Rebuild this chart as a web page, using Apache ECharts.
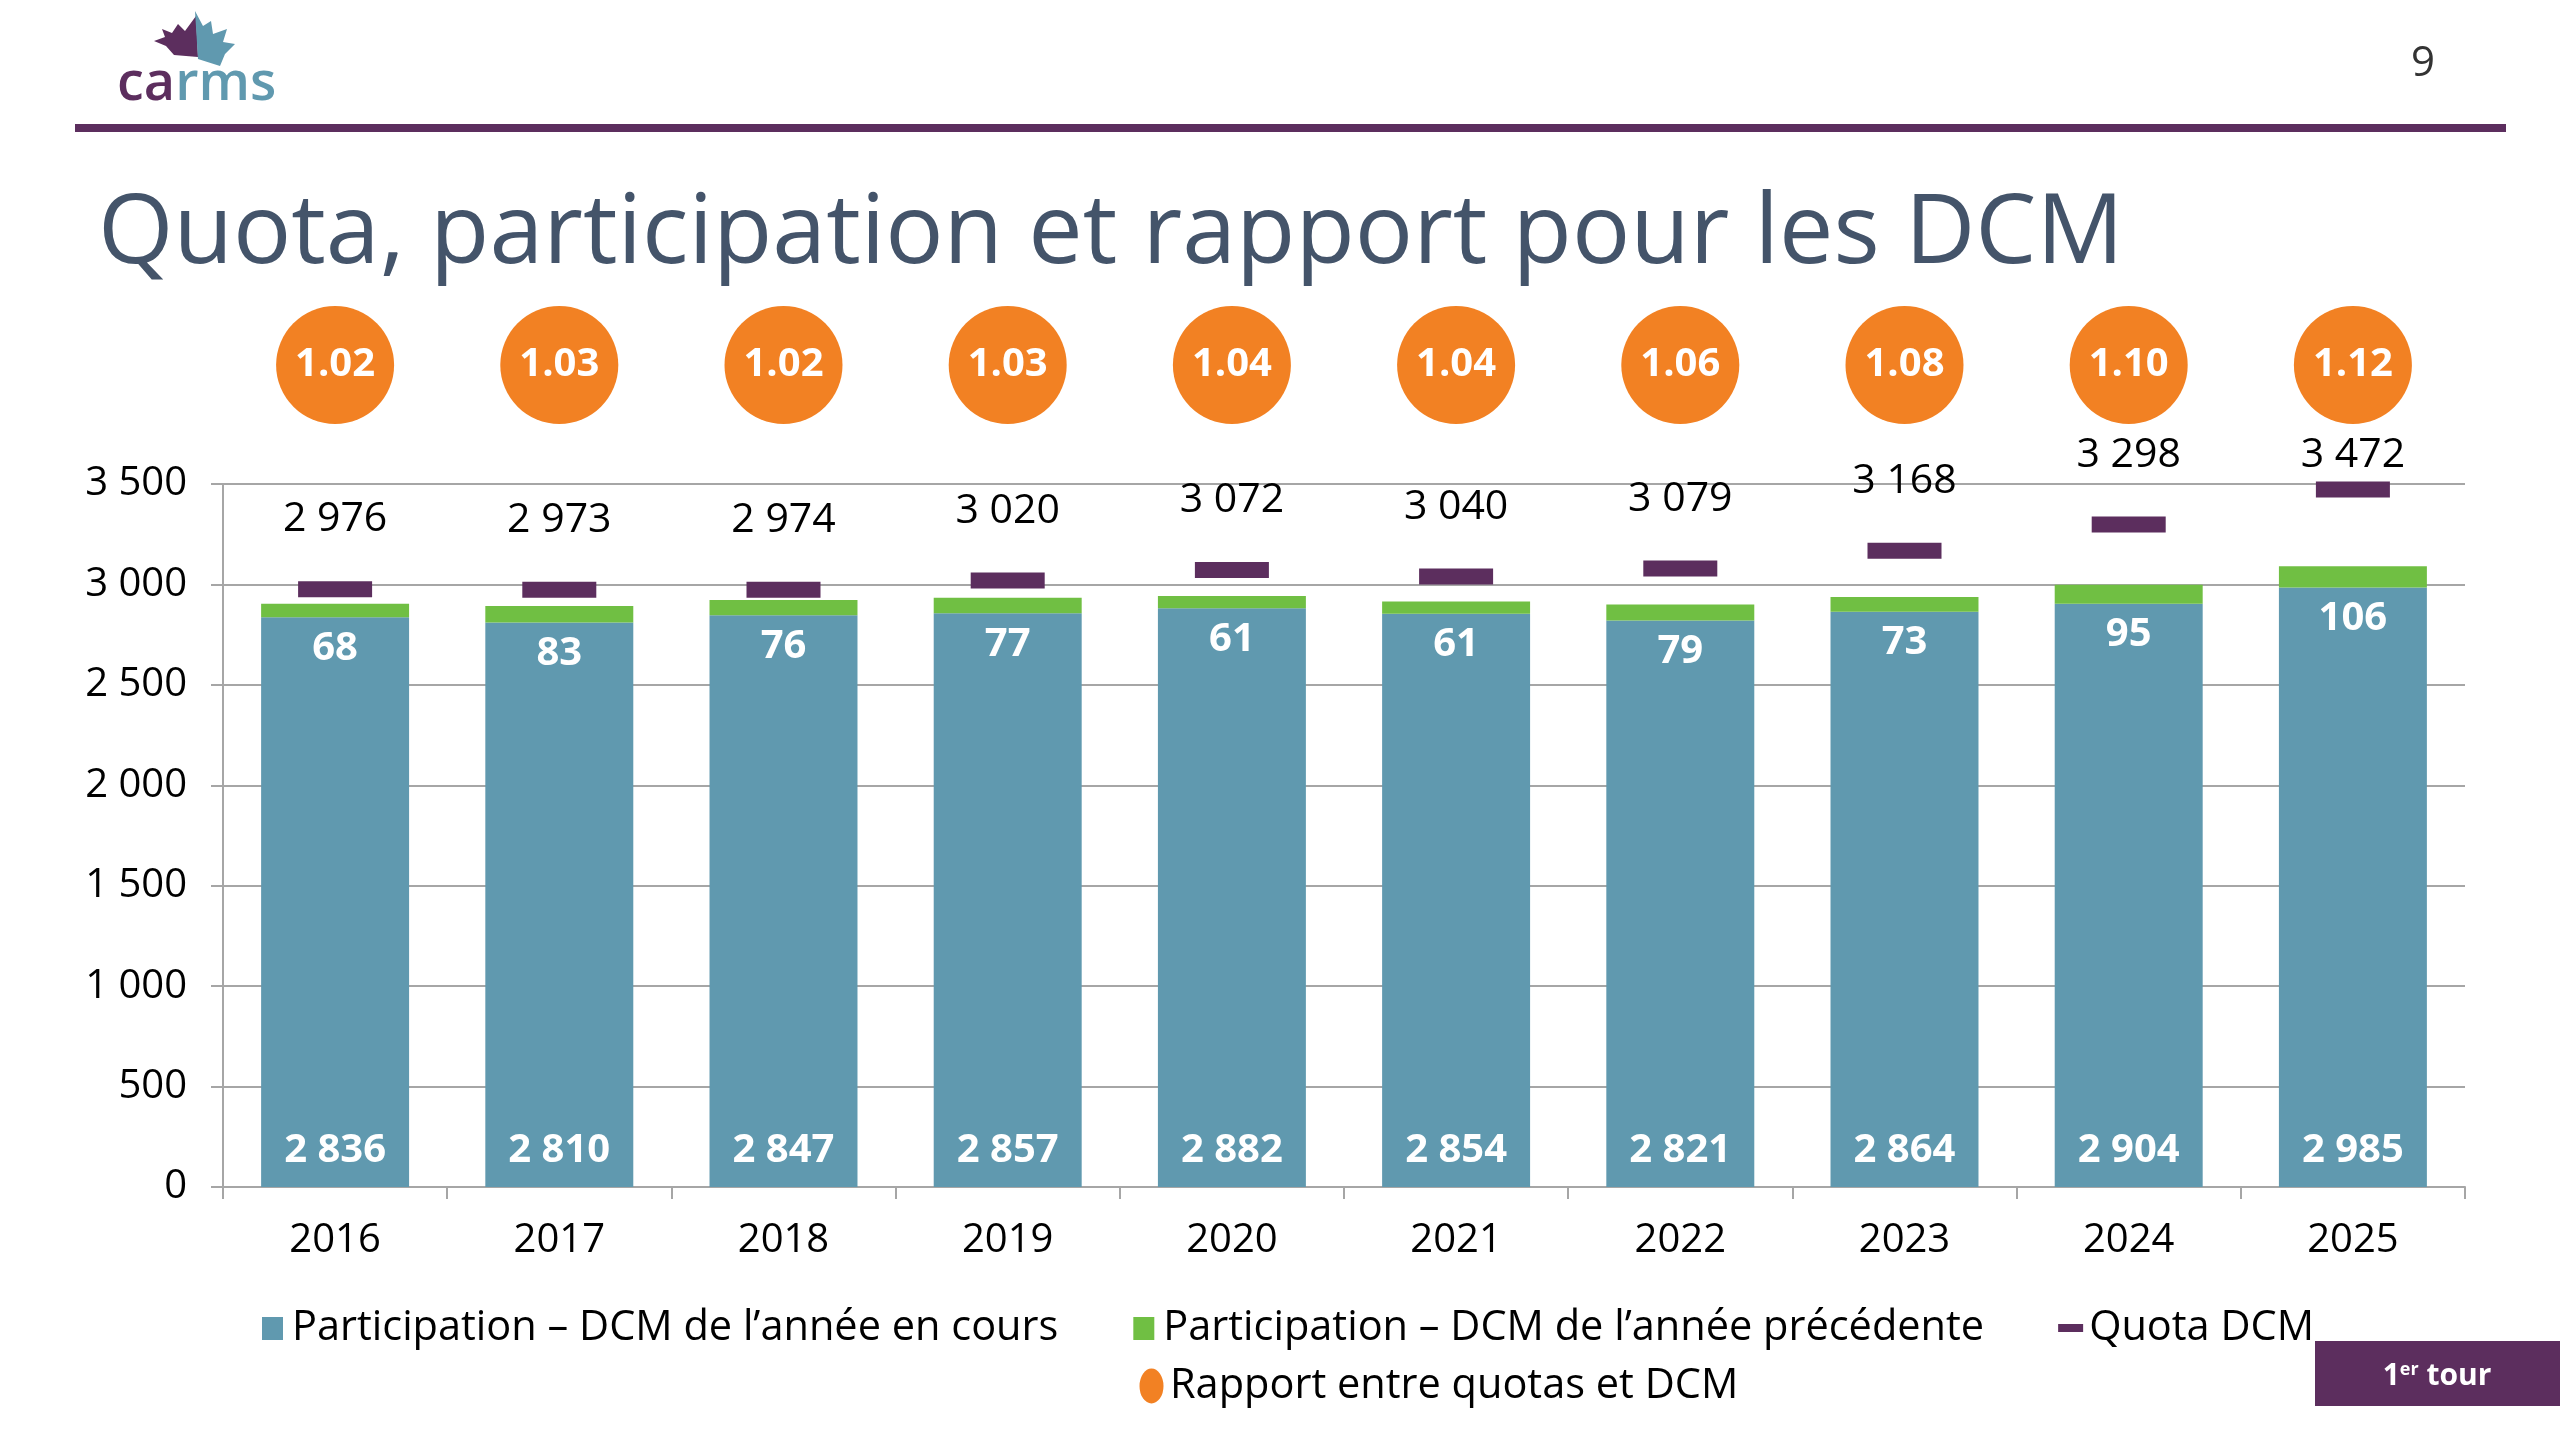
<!DOCTYPE html>
<html>
<head>
<meta charset="utf-8">
<script src="https://cdn.jsdelivr.net/npm/echarts@6/dist/echarts.min.js"></script>
<style>
html,body{margin:0;padding:0;background:#fff;}
#chart{width:2560px;height:1436px;}
</style>
</head>
<body>
<div id="chart"></div>
<script>
// ---- data ----
const years = ['2016','2017','2018','2019','2020','2021','2022','2023','2024','2025'];
const currentYear = [2836, 2810, 2847, 2857, 2882, 2854, 2821, 2864, 2904, 2985];
const previousYear = [68, 83, 76, 77, 61, 61, 79, 73, 95, 106];
const quota = [2976, 2973, 2974, 3020, 3072, 3040, 3079, 3168, 3298, 3472];
const ratio = [1.02, 1.03, 1.02, 1.03, 1.04, 1.04, 1.06, 1.08, 1.10, 1.12];
const yTicks = [0, 500, 1000, 1500, 2000, 2500, 3000, 3500];

const seriesNames = [
  'Participation – DCM de l’année en cours',
  'Participation – DCM de l’année précédente',
  'Quota DCM',
  'Rapport entre quotas et DCM'
];

const C_BLUE = '#6099AF', C_GREEN = '#70BF43', C_PURPLE = '#5C2E5E', C_ORANGE = '#F28123';
const FONT = '"Open Sans", "Noto Sans", sans-serif';
const fmt = v => String(v).replace(/\B(?=(\d{3})+(?!\d))/g, ' ');

const chart = echarts.init(document.getElementById('chart'), null, {renderer: 'canvas'});

// logo decoration: split maple leaf
const leafLeft = [[196,16],[198,57],[174,55],[166,46],[154,41],[165,37],[162,29],[172,33],[178,24],[185,31]];
const leafRight = [[195,11],[203,26],[211,21],[213,34],[227,29],[223,42],[235,44],[225,54],[220,66],[198,59]];

const option = {
  backgroundColor: '#ffffff',
  animation: false,
  textStyle: {fontFamily: FONT},
  title: {
    text: 'Quota, participation et rapport pour les DCM',
    left: 98, top: 187, padding: 0,
    textStyle: {fontFamily: FONT, fontSize: 97, fontWeight: 'normal', color: '#44546A'}
  },
  graphic: [
    {type: 'rect', shape: {x: 75, y: 124, width: 2431, height: 8}, style: {fill: C_PURPLE}},
    {type: 'text', x: 2423, y: 64, style: {text: '9', font: '42px ' + FONT, fill: '#333', align: 'center', verticalAlign: 'middle'}},
    {type: 'text', x: 117, y: 112, style: {
      text: '{p|ca}{t|rms}', verticalAlign: 'bottom',
      rich: {p: {font: '600 54px ' + FONT, fill: C_PURPLE}, t: {font: '600 54px ' + FONT, fill: C_BLUE}}
    }},
    {type: 'polygon', shape: {points: leafLeft}, style: {fill: C_PURPLE}},
    {type: 'polygon', shape: {points: leafRight}, style: {fill: C_BLUE}},
    {type: 'rect', shape: {x: 2315, y: 1341, width: 245, height: 65}, style: {fill: C_PURPLE}},
    {type: 'text', x: 2437, y: 1376, style: {
      text: '{a|1}{s|er}{a| tour}', align: 'center', verticalAlign: 'middle',
      rich: {a: {font: 'bold 30px ' + FONT, fill: '#fff'},
             s: {font: 'bold 18px ' + FONT, fill: '#fff', verticalAlign: 'top', padding: [0, 0, 12, 0]}}
    }}
  ],
  legend: [
    {
      data: [
        {name: seriesNames[0], icon: 'path://M0,0M1,7L22,7L22,30L1,30ZM26,36'},
        {name: seriesNames[1], icon: 'path://M0,0M1,7L22,7L22,30L1,30ZM26,36'},
        {name: seriesNames[2], icon: 'path://M0,0M0,14L25,14L25,22L0,22ZM26,36'}
      ],
      left: 256, top: 1302, itemWidth: 26, itemHeight: 36, itemGap: 74,
      selectedMode: false,
      textStyle: {fontFamily: FONT, fontSize: 41.5, color: '#000', padding: [0, 0, 0, 0]}
    },
    {
      data: [{name: seriesNames[3], icon: 'path://M0,0M0.5,18A12,17.5 0 1 1 24.5,18A12,17.5 0 1 1 0.5,18ZM26,36'}],
      left: 1134, top: 1360, itemWidth: 26, itemHeight: 36,
      selectedMode: false,
      textStyle: {fontFamily: FONT, fontSize: 41.5, color: '#000', padding: [0, 0, 0, 0]}
    }
  ],
  grid: [
    {left: 223, right: 95, top: 484, bottom: 249, containLabel: false},
    {left: 223, right: 95, top: 306, height: 118, containLabel: false}
  ],
  xAxis: [
    {
      type: 'category', data: years, gridIndex: 0,
      axisLine: {lineStyle: {color: '#A6A6A6', width: 2}},
      axisTick: {show: true, length: 12, lineStyle: {color: '#A6A6A6', width: 2}},
      axisLabel: {fontFamily: FONT, fontSize: 40, color: '#000', margin: 34}
    },
    {type: 'category', data: years, gridIndex: 1, show: false}
  ],
  yAxis: [
    {
      type: 'value', gridIndex: 0, min: yTicks[0], max: yTicks[yTicks.length - 1], interval: yTicks[1] - yTicks[0],
      axisLine: {show: true, lineStyle: {color: '#A6A6A6', width: 2}},
      axisTick: {show: true, length: 12, lineStyle: {color: '#A6A6A6', width: 2}},
      splitLine: {lineStyle: {color: '#A6A6A6', width: 2}},
      axisLabel: {fontFamily: FONT, fontSize: 40, color: '#000', margin: 36, formatter: v => fmt(v)}
    },
    {type: 'category', data: ['Rapport'], gridIndex: 1, show: false}
  ],
  series: [
    {
      name: seriesNames[0], type: 'bar', stack: 'p', data: currentYear,
      barCategoryGap: '34%',
      itemStyle: {color: C_BLUE},
      label: {show: true, position: 'insideBottom', distance: 16, formatter: p => fmt(p.value),
              fontFamily: FONT, fontSize: 40, fontWeight: 'bold', color: '#fff'}
    },
    {
      name: seriesNames[1], type: 'bar', stack: 'p', data: previousYear,
      itemStyle: {color: C_GREEN},
      label: {show: true, position: 'bottom', distance: 11, formatter: p => fmt(p.value),
              fontFamily: FONT, fontSize: 40, fontWeight: 'bold', color: '#fff'}
    },
    {
      name: seriesNames[2], type: 'scatter', z: 5,
      data: quota.map((v, i) => i === quota.length - 1 ? {value: v, label: {distance: 6}} : v),
      symbol: 'rect', symbolSize: [74, 16],
      itemStyle: {color: C_PURPLE, opacity: 1},
      label: {show: true, position: 'top', distance: 41, formatter: p => fmt(p.value),
              fontFamily: FONT, fontSize: 41, color: '#000'}
    },
    {
      name: seriesNames[3], type: 'scatter', xAxisIndex: 1, yAxisIndex: 1,
      data: ratio.map((r, i) => [years[i], 'Rapport', r]),
      symbol: 'circle', symbolSize: 118,
      itemStyle: {color: C_ORANGE, opacity: 1},
      label: {show: true, position: 'inside', formatter: p => p.value[2].toFixed(2),
              fontFamily: FONT, fontSize: 40, fontWeight: 'bold', color: '#fff'}
    }
  ]
};
chart.setOption(option);
</script>
</body>
</html>
